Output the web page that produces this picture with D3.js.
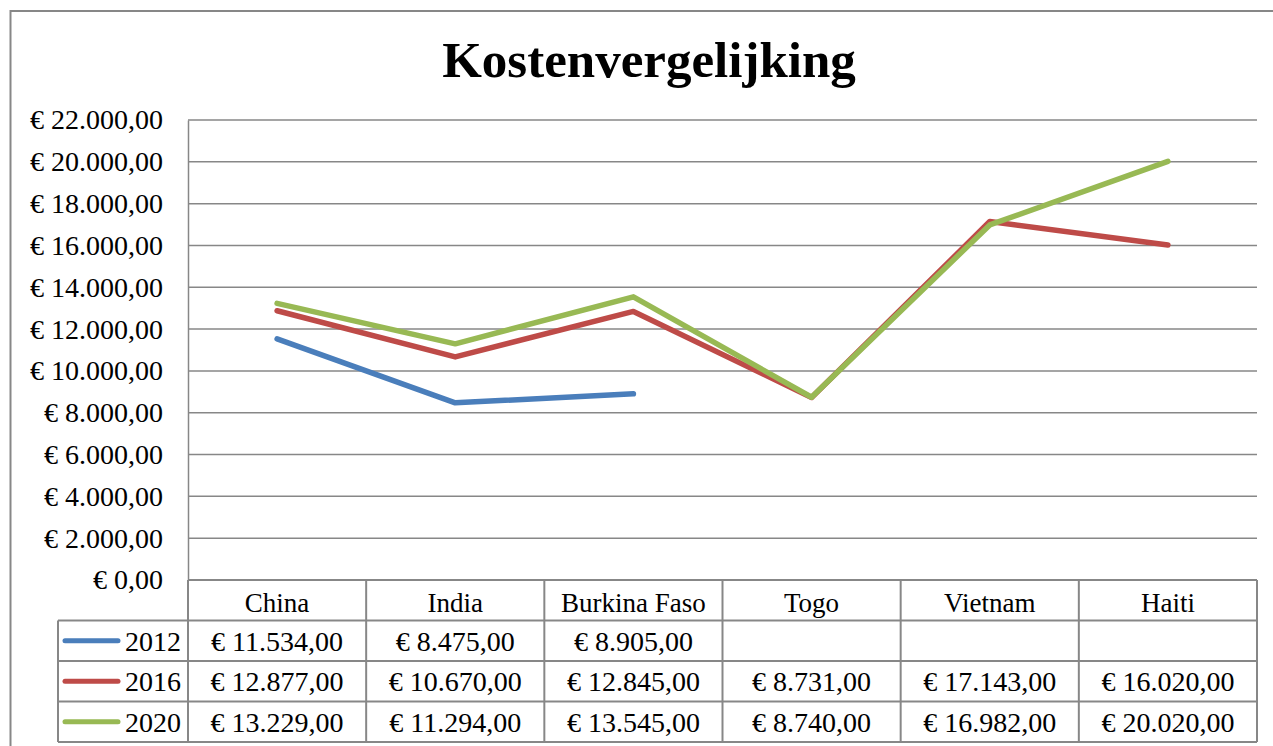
<!DOCTYPE html>
<html>
<head>
<meta charset="utf-8">
<script src="https://cdn.jsdelivr.net/npm/d3@7"></script>
<style>
  html, body { margin: 0; padding: 0; background: #fff; }
  svg { display: block; }
  text { font-family: "Liberation Serif", "DejaVu Serif", serif; fill: #000; }
</style>
</head>
<body>
<div id="chart"></div>
<script>
// chart data
const title = "Kostenvergelijking";
const countries = ["China", "India", "Burkina Faso", "Togo", "Vietnam", "Haiti"];
const years = ["2012", "2016", "2020"];
const values2012 = [11534, 8475, 8905, null, null, null];
const values2016 = [12877, 10670, 12845, 8731, 17143, 16020];
const values2020 = [13229, 11294, 13545, 8740, 16982, 20020];
const yTicks = [0, 2000, 4000, 6000, 8000, 10000, 12000, 14000, 16000, 18000, 20000, 22000];
const colors = ["#4a7ebb", "#be4b48", "#98b954"];

const series = [values2012, values2016, values2020];

const width = 1273, height = 746;
const plot = { left: 188, right: 1257, top: 120, bottom: 580 };
const rowH = 40.5;
const legendLeft = 58;
const gridColor = "#878787";
const numSize = 28;
const catSize = 27;

const nl = d3.formatLocale({ decimal: ",", thousands: ".", grouping: [3], currency: ["€ ", ""] });
const fmt = nl.format("$,.2f");

const svg = d3.select("#chart").append("svg")
  .attr("width", width)
  .attr("height", height);

// outer chart border (runs off the right and bottom edges)
svg.append("rect")
  .attr("x", 10.5).attr("y", 11)
  .attr("width", width + 20).attr("height", height + 20)
  .attr("fill", "none")
  .attr("stroke", gridColor)
  .attr("stroke-width", 2);

const x = d3.scaleBand()
  .domain(countries)
  .range([plot.left, plot.right])
  .padding(0);

const y = d3.scaleLinear()
  .domain([0, 22000])
  .range([plot.bottom, plot.top]);

// gridlines
svg.append("g")
  .selectAll("line")
  .data(yTicks.filter(d => d > 0))
  .enter()
  .append("line")
  .attr("x1", plot.left).attr("x2", plot.right)
  .attr("y1", d => y(d)).attr("y2", d => y(d))
  .attr("stroke", gridColor)
  .attr("stroke-width", 1.5);

// y axis
const yAxis = svg.append("g")
  .attr("transform", `translate(${plot.left},0)`)
  .call(d3.axisLeft(y).tickValues(yTicks).tickSize(0).tickPadding(25).tickFormat(fmt));
yAxis.select(".domain")
  .attr("stroke", gridColor)
  .attr("stroke-width", 1.5);
yAxis.selectAll("text")
  .attr("font-family", "Liberation Serif")
  .attr("font-size", numSize)
  .attr("fill", "#000");

// data table
const tbl = svg.append("g");
const rowsY = [0, 1, 2, 3, 4].map(i => plot.bottom + i * rowH);

// horizontal table lines
tbl.selectAll("line.h")
  .data(rowsY)
  .enter()
  .append("line")
  .attr("class", "h")
  .attr("x1", (d, i) => i === 0 ? plot.left : legendLeft)
  .attr("x2", plot.right)
  .attr("y1", d => d).attr("y2", d => d)
  .attr("stroke", gridColor)
  .attr("stroke-width", 2);

// vertical table lines
const colEdges = countries.map(c => x(c)).concat([plot.right]);
tbl.selectAll("line.v")
  .data(colEdges)
  .enter()
  .append("line")
  .attr("class", "v")
  .attr("x1", d => d).attr("x2", d => d)
  .attr("y1", plot.bottom).attr("y2", rowsY[4])
  .attr("stroke", gridColor)
  .attr("stroke-width", 2);
tbl.append("line")
  .attr("x1", legendLeft).attr("x2", legendLeft)
  .attr("y1", rowsY[1]).attr("y2", rowsY[4])
  .attr("stroke", gridColor)
  .attr("stroke-width", 2);

// header row
tbl.selectAll("text.cat")
  .data(countries)
  .enter()
  .append("text")
  .attr("class", "cat")
  .attr("x", d => x(d) + x.bandwidth() / 2)
  .attr("y", plot.bottom + rowH / 2)
  .attr("dy", "0.42em")
  .attr("text-anchor", "middle")
  .attr("font-size", catSize)
  .text(d => d);

// legend keys + value rows
years.forEach((yr, i) => {
  const cy = rowsY[i + 1] + rowH / 2;
  tbl.append("line")
    .attr("x1", 65).attr("x2", 118)
    .attr("y1", cy).attr("y2", cy)
    .attr("stroke", colors[i])
    .attr("stroke-width", 5)
    .attr("stroke-linecap", "round");
  tbl.append("text")
    .attr("x", 181).attr("y", cy)
    .attr("dy", "0.35em")
    .attr("text-anchor", "end")
    .attr("font-size", numSize)
    .text(yr);
  tbl.selectAll("text.v" + yr)
    .data(series[i])
    .enter()
    .append("text")
    .attr("class", "v" + yr)
    .attr("x", (d, j) => x(countries[j]) + x.bandwidth() / 2)
    .attr("y", cy)
    .attr("dy", "0.35em")
    .attr("text-anchor", "middle")
    .attr("font-size", numSize)
    .text(d => d == null ? "" : fmt(d));
});

// lines
const line = d3.line()
  .defined(d => d.v != null)
  .x(d => x(d.c) + x.bandwidth() / 2)
  .y(d => y(d.v));

series.forEach((vals, i) => {
  svg.append("path")
    .datum(vals.map((v, j) => ({ c: countries[j], v: v })))
    .attr("fill", "none")
    .attr("stroke", colors[i])
    .attr("stroke-width", 5.5)
    .attr("stroke-linejoin", "round")
    .attr("stroke-linecap", "round")
    .attr("d", line);
});

// title
svg.append("text")
  .attr("x", 649).attr("y", 77)
  .attr("text-anchor", "middle")
  .attr("font-size", 51)
  .attr("font-weight", "bold")
  .text(title);
</script>
</body>
</html>
